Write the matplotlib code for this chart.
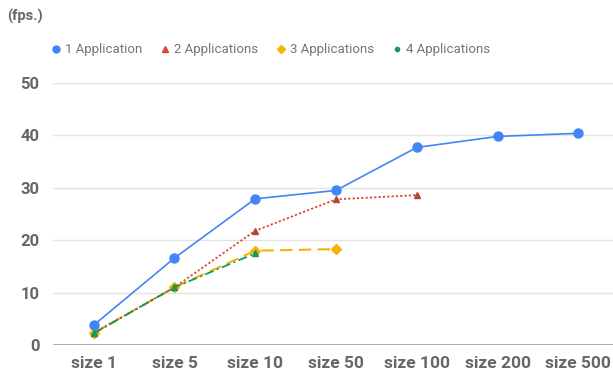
import matplotlib.pyplot as plt
from matplotlib.lines import Line2D

plt.rcParams['font.family'] = ['Roboto', 'DejaVu Sans']

sizes = ["size 1", "size 5", "size 10", "size 50", "size 100", "size 200", "size 500"]
fps_1app = [3.8, 16.6, 27.9, 29.5, 37.7, 39.8, 40.4]
fps_2app = [2.3, 11.0, 21.8, 27.8, 28.6]
fps_3app = [2.3, 11.0, 18.0, 18.3]
fps_4app = [2.2, 11.0, 17.5]
series_names = ["1 Application", "2 Applications", "3 Applications", "4 Applications"]

fig = plt.figure(figsize=(6.13, 3.73), dpi=100)
ax = fig.add_axes([0.087, 0.075, 0.913, 0.7025])

x = list(range(len(sizes)))
ax.plot(x[:len(fps_1app)], fps_1app, color="#4285F4", lw=1.2, marker="o", ms=6.5,
        clip_on=False, zorder=5)
ax.plot(x[:len(fps_2app)], fps_2app, color="#DB4437", lw=1.3, ls=(0, (1.2, 1.2)),
        marker="^", ms=5, mfc="#B5473A", mec="#B5473A", clip_on=False, zorder=4)
ax.plot(x[:len(fps_3app)], fps_3app, color="#F4B400", lw=1.5, ls=(0, (6, 3)),
        marker="D", ms=5, clip_on=False, zorder=3)
ax.plot(x[:len(fps_4app)], fps_4app, color="#0F9D58", lw=1.3, ls=(0, (5, 2, 1, 2)),
        marker="^", ms=5, clip_on=False, zorder=6)

ax.set_xlim(-0.5, 6.43)
ax.set_ylim(0, 50)
ax.set_yticks([0, 10, 20, 30, 40, 50])
ax.set_xticks(x)
ax.set_xticklabels(sizes)
ax.grid(axis="y", color="#e3e3e3", lw=1)
ax.axhline(0, color="#9e9e9e", lw=1.2, zorder=2)
for s in ax.spines.values():
    s.set_visible(False)
ax.tick_params(length=0, colors="#666666", labelsize=12)
ax.tick_params(axis="x", pad=8, labelsize=12.5)
ax.tick_params(axis="y", pad=10)
for lbl in ax.get_xticklabels() + ax.get_yticklabels():
    lbl.set_fontweight("bold")

fig.text(0.012, 0.955, "(fps.)", color="#666666", fontsize=10.5, fontweight="bold",
         va="center", ha="left")

handles = [
    Line2D([], [], ls="none", marker="o", color="#4285F4", ms=5),
    Line2D([], [], ls="none", marker="^", color="#DB4437", ms=4.5),
    Line2D([], [], ls="none", marker="D", color="#F4B400", ms=4),
    Line2D([], [], ls="none", marker="o", color="#0F9D58", ms=3),
]
fig.legend(handles, series_names, loc="center", bbox_to_anchor=(269 / 613, 1 - 50 / 373),
           ncol=4, frameon=False, fontsize=9.5, labelcolor="#757575",
           handletextpad=0.1, columnspacing=1.1, handlelength=1.2)

fig.savefig("out.png", dpi=100, facecolor="white")
